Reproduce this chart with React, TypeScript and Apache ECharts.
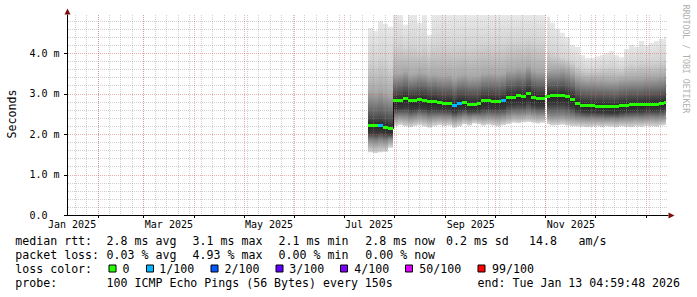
import React, { useEffect, useRef } from "react";
import * as echarts from "echarts";

const DAY = 86400000;
const FONT = "DejaVu Sans Mono";

// ---- axis ranges ----
const X_MIN = Date.UTC(2025, 0, 13, 9, 50);
const X_MAX = X_MIN + 366.3 * DAY;
const Y_MAX = 4.94;

// ---- tick labels ----
const xTickLabels = ["Jan 2025", "Mar 2025", "May 2025", "Jul 2025", "Sep 2025", "Nov 2025"];
const xTickLabelDates = [
  Date.UTC(2025, 0, 16, 12), Date.UTC(2025, 2, 16, 12), Date.UTC(2025, 4, 16, 12),
  Date.UTC(2025, 6, 16, 12), Date.UTC(2025, 8, 16, 12), Date.UTC(2025, 10, 16, 12),
];
const yMajorTicks = [0, 1, 2, 3, 4];
const yMinorTicks = [0.2, 0.4, 0.6, 0.8, 1.2, 1.4, 1.6, 1.8, 2.2, 2.4, 2.6, 2.8, 3.2, 3.4, 3.6, 3.8, 4.2, 4.4, 4.6, 4.8];
const monthLines = [1, 2, 3, 4, 5, 6, 7, 8, 9, 10, 11, 12].map((m) => Date.UTC(2025, m, 1));
const weekLines: number[] = [];
for (let t = Date.UTC(2025, 0, 18); t < X_MAX; t += 7 * DAY) weekLines.push(t);

// ---- data: 3-day buckets from 2025-07-16 ----
const BUCKET_START = Date.UTC(2025, 6, 16);
const BUCKET_DAYS = 3;
const DATA_END = Date.UTC(2026, 0, 13, 4, 59, 48);

const medianMs = [
  2.22, 2.22, 2.21, 2.17, 2.13,
  2.82, 2.82, 2.88, 2.82, 2.82, 2.85, 2.84, 2.80, 2.80,
  2.77, 2.76, 2.76, 2.70, 2.76, 2.78, 2.73, 2.73, 2.75, 2.82, 2.82,
  2.81, 2.80, 2.82, 2.91, 2.91, 2.94, 2.92, 3.00, 2.91, 2.88, 2.88,
  2.93, 2.94, 2.94, 2.96, 2.92, 2.86,
  2.76, 2.71, 2.70, 2.70, 2.69, 2.69, 2.68, 2.67, 2.67, 2.70, 2.71, 2.72, 2.72, 2.72, 2.74, 2.74, 2.74, 2.76, 2.79,
];
const lossIdx = [
  0, 0, 1, 0, 0,
  0, 0, 0, 0, 0, 0, 0, 0, 0,
  0, 0, 0, 1, 1, 0, 0, 0, 0, 0, 0,
  0, 0, 1, 0, 0, 0, 0, 0, 0, 0, 0,
  0, 0, 0, 0, 0, 0,
  0, 0, 0, 0, 0, 0, 0, 0, 0, 0, 0, 0, 0, 0, 0, 0, 0, 0, 0,
];
const pingMin = [
  1.55, 1.53, 1.55, 1.56, 1.66,
  2.20, 2.22, 2.19, 2.17, 2.20, 2.22, 2.19, 2.16, 2.20,
  2.22, 2.20, 2.21, 2.16, 2.19, 2.24, 2.21, 2.26, 2.24, 2.21, 2.23,
  2.21, 2.19, 2.22, 2.25, 2.28, 2.27, 2.29, 2.30, 2.28, 2.26, 2.28,
  2.24, 2.21, 2.22, 2.23, 2.21, 2.19,
  2.19, 2.18, 2.17, 2.18, 2.19, 2.17, 2.19, 2.18, 2.17, 2.19, 2.18, 2.17, 2.19, 2.18, 2.20, 2.19, 2.18, 2.21, 2.22,
];
const ping10 = [
  1.84, 1.82, 1.85, 1.83, 1.88,
  2.42, 2.44, 2.43, 2.40, 2.42, 2.45, 2.43, 2.40, 2.42,
  2.43, 2.42, 2.42, 2.38, 2.41, 2.44, 2.42, 2.44, 2.43, 2.42, 2.44,
  2.43, 2.42, 2.44, 2.47, 2.50, 2.49, 2.50, 2.52, 2.50, 2.48, 2.49,
  2.46, 2.44, 2.45, 2.46, 2.44, 2.42,
  2.40, 2.39, 2.38, 2.39, 2.38, 2.38, 2.37, 2.38, 2.37, 2.38, 2.39, 2.39, 2.40, 2.39, 2.40, 2.41, 2.40, 2.41, 2.43,
];
const ping25 = [
  2.03, 2.02, 2.04, 2.01, 1.99,
  2.62, 2.63, 2.65, 2.61, 2.62, 2.64, 2.63, 2.60, 2.61,
  2.60, 2.59, 2.59, 2.54, 2.59, 2.61, 2.57, 2.57, 2.58, 2.63, 2.64,
  2.63, 2.62, 2.64, 2.71, 2.72, 2.74, 2.72, 2.78, 2.71, 2.69, 2.69,
  2.73, 2.74, 2.74, 2.75, 2.72, 2.67,
  2.59, 2.55, 2.54, 2.54, 2.53, 2.53, 2.52, 2.51, 2.51, 2.54, 2.55, 2.56, 2.56, 2.56, 2.58, 2.58, 2.58, 2.60, 2.62,
];
const ping75 = [
  2.46, 2.45, 2.47, 2.44, 2.40,
  3.06, 3.07, 3.12, 3.06, 3.07, 3.10, 3.09, 3.04, 3.05,
  3.02, 3.01, 3.01, 2.96, 3.02, 3.03, 2.99, 2.99, 3.00, 3.06, 3.07,
  3.06, 3.05, 3.07, 3.15, 3.16, 3.19, 3.17, 3.25, 3.16, 3.13, 3.13,
  3.17, 3.18, 3.18, 3.20, 3.16, 3.10,
  3.00, 2.95, 2.94, 2.94, 2.93, 2.93, 2.92, 2.91, 2.91, 2.94, 2.95, 2.96, 2.96, 2.96, 2.98, 2.98, 2.98, 3.00, 3.03,
];
const ping90 = [
  3.05, 3.02, 3.08, 3.00, 2.95,
  3.48, 3.50, 3.55, 3.46, 3.48, 3.52, 3.50, 3.44, 3.47,
  3.44, 3.43, 3.45, 3.38, 3.44, 3.46, 3.41, 3.42, 3.43, 3.49, 3.50,
  3.49, 3.47, 3.50, 3.58, 3.58, 3.62, 3.60, 3.68, 3.58, 3.55, 3.55,
  3.58, 3.60, 3.60, 3.62, 3.58, 3.50,
  3.40, 3.36, 3.34, 3.35, 3.33, 3.34, 3.33, 3.32, 3.32, 3.35, 3.36, 3.37, 3.37, 3.38, 3.40, 3.40, 3.41, 3.43, 3.46,
];
const ping95 = [
  3.85, 3.80, 3.90, 3.82, 3.70,
  4.20, 4.25, 4.15, 4.22, 4.20, 4.10, 4.22, 4.05, 4.20,
  4.22, 4.20, 4.18, 4.15, 4.20, 4.22, 4.18, 4.20, 4.22, 4.25, 4.25,
  4.22, 4.20, 4.24, 4.30, 4.30, 4.32, 4.30, 4.35, 4.30, 4.28, 4.28,
  4.10, 4.00, 3.95, 3.90, 3.85, 3.80,
  3.70, 3.62, 3.60, 3.60, 3.62, 3.64, 3.66, 3.68, 3.64, 3.62, 3.70, 3.75, 3.72, 3.80, 3.76, 3.78, 3.80, 3.82, 3.85,
];
const pingMax = [
  4.62, 4.55, 4.80, 4.72, 4.65,
  4.94, 4.94, 4.70, 4.94, 4.94, 4.75, 4.94, 4.45, 4.94,
  4.94, 4.94, 4.94, 4.94, 4.94, 4.94, 4.94, 4.94, 4.94, 4.94, 4.94,
  4.94, 4.94, 4.94, 4.94, 4.94, 4.94, 4.94, 4.94, 4.94, 4.94, 4.94,
  4.90, 4.75, 4.60, 4.50, 4.40, 4.20,
  4.15, 3.95, 3.88, 3.88, 3.92, 3.95, 4.00, 4.05, 3.95, 3.90, 4.10, 4.20, 4.15, 4.30, 4.20, 4.25, 4.30, 4.35, 4.40,
];
const outages = [[Date.UTC(2025, 9, 31, 12), Date.UTC(2025, 10, 1, 18)]];

// ---- legend text ----
const rttStats = ["median rtt:", "2.8 ms avg", "3.1 ms max", "2.1 ms min", "2.8 ms now", "0.2 ms sd", "14.8", "am/s"];
const lossStats = ["packet loss:", "0.03 % avg", "4.93 % max", "0.00 % min", "0.00 % now"];
const lossLegendTitle = "loss color:";
const lossLegend = ["0", "1/100", "2/100", "3/100", "4/100", "50/100", "99/100"];
const lossColors = ["#26ff00", "#00b8ff", "#0059ff", "#5e00ff", "#7e00ff", "#dd00ff", "#ff0000"];
const probeRow = ["probe:", "100 ICMP Echo Pings (56 Bytes) every 150s", "end: Tue Jan 13 04:59:48 2026"];

// ---- layout (pixels) ----
const ROW_Y = [241.3, 255, 269, 282.7];
const ROW0_X = [15.3, 106.6, 192.6, 278.6, 365.3, 446, 529.0, 578.6];
const ROW1_X = [15.3, 106.6, 192.6, 278.6, 365.3];
const BOX_X = [108.5, 146, 210.5, 275.5, 340, 405, 477.5];
const BOX_LABEL_X = [122.6, 159.3, 224.6, 289.3, 354.3, 419.3, 492];
const ROW3_X = [15.3, 106.6, 477.6];

const GRAY = "rgba(140,140,140,0.42)";
const RED = "rgba(222,79,79,0.45)";
const SMOKE_COLORS = ["#d8d8d8", "#8a8a8a", "#3a3a3a", "#242424", "#575757", "#a8a8a8", "#d4d4d4", "#e8e8e8"];

function buildOption() {
  const bucketRows = medianMs.map((m, i) => {
    const t0 = BUCKET_START + i * BUCKET_DAYS * DAY;
    const t1 = Math.min(t0 + BUCKET_DAYS * DAY, DATA_END);
    return [t0, t1, pingMin[i], ping10[i], ping25[i], m, ping75[i], ping90[i], ping95[i], pingMax[i]];
  });
  const medianRows = medianMs.map((m, i) => {
    const t0 = BUCKET_START + i * BUCKET_DAYS * DAY;
    const t1 = Math.min(t0 + BUCKET_DAYS * DAY, DATA_END);
    return [t0, t1, m, lossIdx[i], i > 0 ? medianMs[i - 1] : m];
  });
  const vGrid = [...weekLines.map((t) => [t, 0]), ...monthLines.map((t) => [t, 1])];
  const hGrid = [...yMinorTicks.map((v) => [v, 0]), ...yMajorTicks.map((v) => [v, 1])];
  const xLabelRows = xTickLabelDates.map((t, i) => [t, i]);

  const textStyle = (text: string, x: number, y: number, extra: any = {}) => ({
    type: "text",
    x,
    y,
    silent: true,
    style: {
      text,
      fill: "#000",
      fontFamily: FONT,
      fontSize: 11.6,
      align: "left",
      verticalAlign: "middle",
      ...extra,
    },
  });

  const graphics: any[] = [];
  rttStats.forEach((s, i) => graphics.push(textStyle(s, ROW0_X[i], ROW_Y[0])));
  lossStats.forEach((s, i) => graphics.push(textStyle(s, ROW1_X[i], ROW_Y[1])));
  graphics.push(textStyle(lossLegendTitle, 15.3, ROW_Y[2]));
  lossLegend.forEach((s, i) => {
    graphics.push({
      type: "rect",
      silent: true,
      shape: { x: BOX_X[i] + 0.5, y: 265, width: 7, height: 7 },
      style: { fill: lossColors[i], stroke: "#000", lineWidth: 1 },
    });
    graphics.push(textStyle(s, BOX_LABEL_X[i], ROW_Y[2]));
  });
  probeRow.forEach((s, i) => graphics.push(textStyle(s, ROW3_X[i], ROW_Y[3])));
  graphics.push({ ...textStyle("Seconds", 11.5, 114, { align: "center" }), rotation: Math.PI / 2 });
  graphics.push({
    ...textStyle("RRDTOOL / TOBI OETIKER", 686, 59, { align: "center", fontSize: 8.2, fill: "#b0b0b0" }),
    rotation: -Math.PI / 2,
  });
  graphics.push({
    type: "polygon",
    silent: true,
    shape: { points: [[67.5, 8.5], [64.5, 14.5], [70.5, 14.5]] },
    style: { fill: "#7f1010" },
  });
  graphics.push({
    type: "polygon",
    silent: true,
    shape: { points: [[674.5, 215.5], [668.5, 212.5], [668.5, 218.5]] },
    style: { fill: "#7f1010" },
  });

  return {
    animation: false,
    backgroundColor: "#fff",
    grid: { left: 67, top: 15, width: 601, height: 200 },
    xAxis: {
      type: "value",
      min: X_MIN,
      max: X_MAX,
      axisLine: { show: true, onZero: false, lineStyle: { color: "#000", width: 1 } },
      axisTick: { show: false },
      axisLabel: { show: false },
      splitLine: { show: false },
    },
    yAxis: {
      type: "value",
      min: 0,
      max: Y_MAX,
      interval: 1,
      axisLine: { show: true, onZero: false, lineStyle: { color: "#000", width: 1 } },
      axisTick: { show: false },
      splitLine: { show: false },
      axisLabel: {
        show: true,
        showMaxLabel: false,
        align: "left",
        margin: 37.5,
        color: "#000",
        fontFamily: FONT,
        fontSize: 10,
        formatter: (v: number) => (v === 0 ? "0.0" : v.toFixed(1) + " m"),
      },
    },
    graphic: graphics,
    series: [
      {
        type: "custom",
        name: "smoke",
        silent: true,
        z: 2,
        encode: { x: [0, 1], y: [2, 9] },
        data: bucketRows,
        renderItem: (_p: any, api: any) => {
          const t0 = api.value(0);
          const t1 = api.value(1);
          const x0 = Math.round(api.coord([t0, 0])[0]);
          const x1 = Math.round(api.coord([t1, 0])[0]);
          const ys: number[] = [];
          for (let k = 2; k <= 9; k++) ys.push(api.coord([t0, api.value(k)])[1]);
          const yTop = ys[7];
          const yBot = ys[0];
          const h = yBot - yTop;
          const stops = ys
            .map((y, k) => ({ offset: Math.min(1, Math.max(0, (y - yTop) / h)), color: SMOKE_COLORS[k] }))
            .reverse();
          return {
            type: "rect",
            shape: { x: x0, y: yTop, width: x1 - x0, height: h },
            style: { fill: new echarts.graphic.LinearGradient(0, 0, 0, 1, stops) },
          };
        },
      },
      {
        type: "custom",
        name: "outage",
        silent: true,
        z: 3,
        data: outages,
        renderItem: (_p: any, api: any) => {
          const a = api.coord([api.value(0), Y_MAX]);
          const b = api.coord([api.value(1), 0]);
          const x0 = Math.round(a[0]);
          const x1 = Math.max(x0 + 1, Math.round(b[0]));
          return { type: "rect", shape: { x: x0, y: a[1], width: x1 - x0, height: b[1] - a[1] }, style: { fill: "#fff" } };
        },
      },
      {
        type: "custom",
        name: "vgrid",
        silent: true,
        z: 4,
        data: vGrid,
        renderItem: (_p: any, api: any) => {
          const t = api.value(0);
          const kind = api.value(1);
          const p0 = api.coord([t, 0]);
          const p1 = api.coord([t, Y_MAX]);
          const x = Math.round(p0[0]) + 0.5;
          const children: any[] = [
            {
              type: "line",
              shape: { x1: x, y1: p1[1], x2: x, y2: p0[1] },
              style: { stroke: kind ? RED : GRAY, lineWidth: 1, lineDash: [1, 1] },
            },
          ];
          if (kind) {
            children.push({
              type: "line",
              shape: { x1: x, y1: p0[1], x2: x, y2: p0[1] + 3 },
              style: { stroke: "#000", lineWidth: 1 },
            });
          }
          return { type: "group", children };
        },
      },
      {
        type: "custom",
        name: "hgrid",
        silent: true,
        z: 4,
        data: hGrid,
        renderItem: (_p: any, api: any) => {
          const v = api.value(0);
          const kind = api.value(1);
          const pL = api.coord([X_MIN, v]);
          const pR = api.coord([X_MAX, v]);
          const y = Math.round(pL[1]) + 0.5;
          const children: any[] = [];
          if (v > 0) {
            children.push({
              type: "line",
              shape: { x1: pL[0] + 1, y1: y, x2: pR[0], y2: y },
              style: { stroke: kind ? RED : GRAY, lineWidth: 1, lineDash: [1, 1] },
            });
          }
          if (kind) {
            children.push({
              type: "line",
              shape: { x1: pL[0] - 3, y1: y, x2: pL[0], y2: y },
              style: { stroke: "#000", lineWidth: 1 },
            });
          }
          return { type: "group", children };
        },
      },
      {
        type: "custom",
        name: "median",
        silent: true,
        z: 5,
        encode: { x: [0, 1], y: 2 },
        data: medianRows,
        renderItem: (_p: any, api: any) => {
          const t0 = api.value(0);
          const t1 = api.value(1);
          const m = api.value(2);
          const loss = api.value(3);
          const prev = api.value(4);
          const x0 = Math.round(api.coord([t0, m])[0]);
          const x1 = Math.round(api.coord([t1, m])[0]);
          const y = api.coord([t0, m])[1];
          const top = Math.round(y - 1.5);
          const children: any[] = [];
          if (Math.abs(m - prev) > 0.12) {
            const yp = api.coord([t0, prev])[1];
            children.push({
              type: "line",
              shape: { x1: x0 + 0.5, y1: yp, x2: x0 + 0.5, y2: y },
              style: { stroke: "#111", lineWidth: 1 },
            });
          }
          children.push({
            type: "rect",
            shape: { x: x0, y: top, width: x1 - x0, height: 3 },
            style: { fill: lossColors[loss] },
          });
          return { type: "group", children };
        },
      },
      {
        type: "custom",
        name: "xlabels",
        silent: true,
        z: 6,
        data: xLabelRows,
        renderItem: (_p: any, api: any) => {
          const t = api.value(0);
          const i = api.value(1);
          const p = api.coord([t, 0]);
          return {
            type: "text",
            x: p[0],
            y: p[1] + 9.8,
            style: {
              text: xTickLabels[i],
              fill: "#000",
              fontFamily: FONT,
              fontSize: 10,
              align: "center",
              verticalAlign: "middle",
            },
          };
        },
      },
    ],
  };
}

export default function App() {
  const ref = useRef<HTMLDivElement>(null);
  useEffect(() => {
    if (!ref.current) return;
    const chart = echarts.init(ref.current, undefined, { renderer: "svg" });
    chart.setOption(buildOption() as any);
    return () => chart.dispose();
  }, []);
  return (
    <div
      ref={ref}
      style={{ position: "fixed", left: 0, top: 0, width: 697, height: 297, background: "#fff" }}
    />
  );
}
